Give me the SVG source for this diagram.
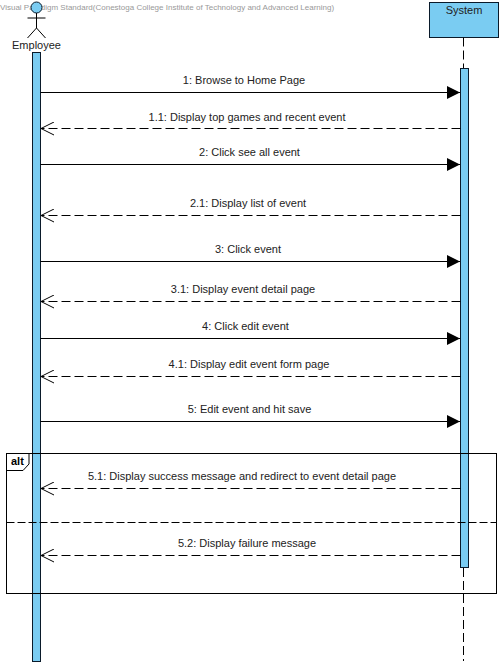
<svg xmlns="http://www.w3.org/2000/svg" width="503" height="666" viewBox="0 0 503 666">
<style>
text{font-family:"Liberation Sans",Arial,sans-serif;font-size:11px;fill:#222}
.m{text-anchor:middle}
.b{fill:#7accf2;stroke:#0a1a2a;stroke-width:1}
.s{fill:none;stroke:#000;stroke-width:1}
.r{fill:none;stroke:#000;stroke-width:1;marker-end:url(#fa)}
.d{fill:none;stroke:#000;stroke-width:1;stroke-dasharray:9 4;marker-end:url(#oa)}
.l{fill:none;stroke:#000;stroke-width:1;stroke-dasharray:9 4}
.v{fill:none;stroke:#000;stroke-width:1;stroke-dasharray:8 3}
</style>
<defs>
<marker id="fa" markerUnits="userSpaceOnUse" markerWidth="14" markerHeight="14" refX="13" refY="7" orient="auto"><path d="M0,0.500L13,7L0,13.500Z" fill="#000"/></marker>
<marker id="oa" markerUnits="userSpaceOnUse" markerWidth="14" markerHeight="14" refX="13" refY="7" orient="auto"><path d="M0,0.500L13,7L0,13.500" fill="none" stroke="#000"/></marker>
</defs>
<rect width="503" height="666" fill="#fff"/>
<text x="0" y="10" style="font-size:8px;fill:#999">Visual Paradigm Standard(Conestoga College Institute of Technology and Advanced Learning)</text>
<g id="system">
<rect class="b" x="429.500" y="2.500" width="69" height="35"/>
<text class="m" x="464" y="14">System</text>
<path class="l" d="M463.500 37.500V68"/>
<path class="l" d="M463.500 568V661"/>
<rect class="b" x="460.500" y="68.500" width="8" height="499"/>
</g>
<g id="employee">
<circle class="b" cx="36.500" cy="7.500" r="5.500"/>
<path class="s" d="M36.500 13V28M27.500 18H45.500M36.500 28L27.500 38M36.500 28L45.500 38"/>
<text class="m" x="36.500" y="49">Employee</text>
<rect class="b" x="32.500" y="52.500" width="8" height="609"/>
</g>
<g id="alt-frame">
<rect class="s" x="6.500" y="453.500" width="490" height="140"/>
<path class="s" d="M6.500 470.500H23L29 464V453.500"/>
<text x="11" y="465" style="font-weight:bold;fill:#000">alt</text>
<path class="v" d="M6.500 522.500H496"/>
</g>
<g id="connectors">
<path class="r" d="M40.500 92.500H460"/>
<path class="d" d="M460.500 128.500H41"/>
<path class="r" d="M40.500 164.500H460"/>
<path class="d" d="M460.500 215.500H41"/>
<path class="r" d="M40.500 261.500H460"/>
<path class="d" d="M460.500 301.500H41"/>
<path class="r" d="M40.500 338.500H460"/>
<path class="d" d="M460.500 376.500H41"/>
<path class="r" d="M40.500 421.500H460"/>
<path class="d" d="M460.500 488.500H41"/>
<path class="d" d="M460.500 555.500H41"/>
</g>
<g id="labels">
<text class="m" x="244" y="84">1: Browse to Home Page</text>
<text class="m" x="247" y="121">1.1: Display top games and recent event</text>
<text class="m" x="249.500" y="156">2: Click see all event</text>
<text class="m" x="248" y="207">2.1: Display list of event</text>
<text class="m" x="248" y="253">3: Click event</text>
<text class="m" x="243" y="293">3.1: Display event detail page</text>
<text class="m" x="245.500" y="330">4: Click edit event</text>
<text class="m" x="249" y="368">4.1: Display edit event form page</text>
<text class="m" x="249.500" y="413">5: Edit event and hit save</text>
<text class="m" x="242" y="480">5.1: Display success message and redirect to event detail page</text>
<text class="m" x="247" y="547">5.2: Display failure message</text>
</g>
</svg>
